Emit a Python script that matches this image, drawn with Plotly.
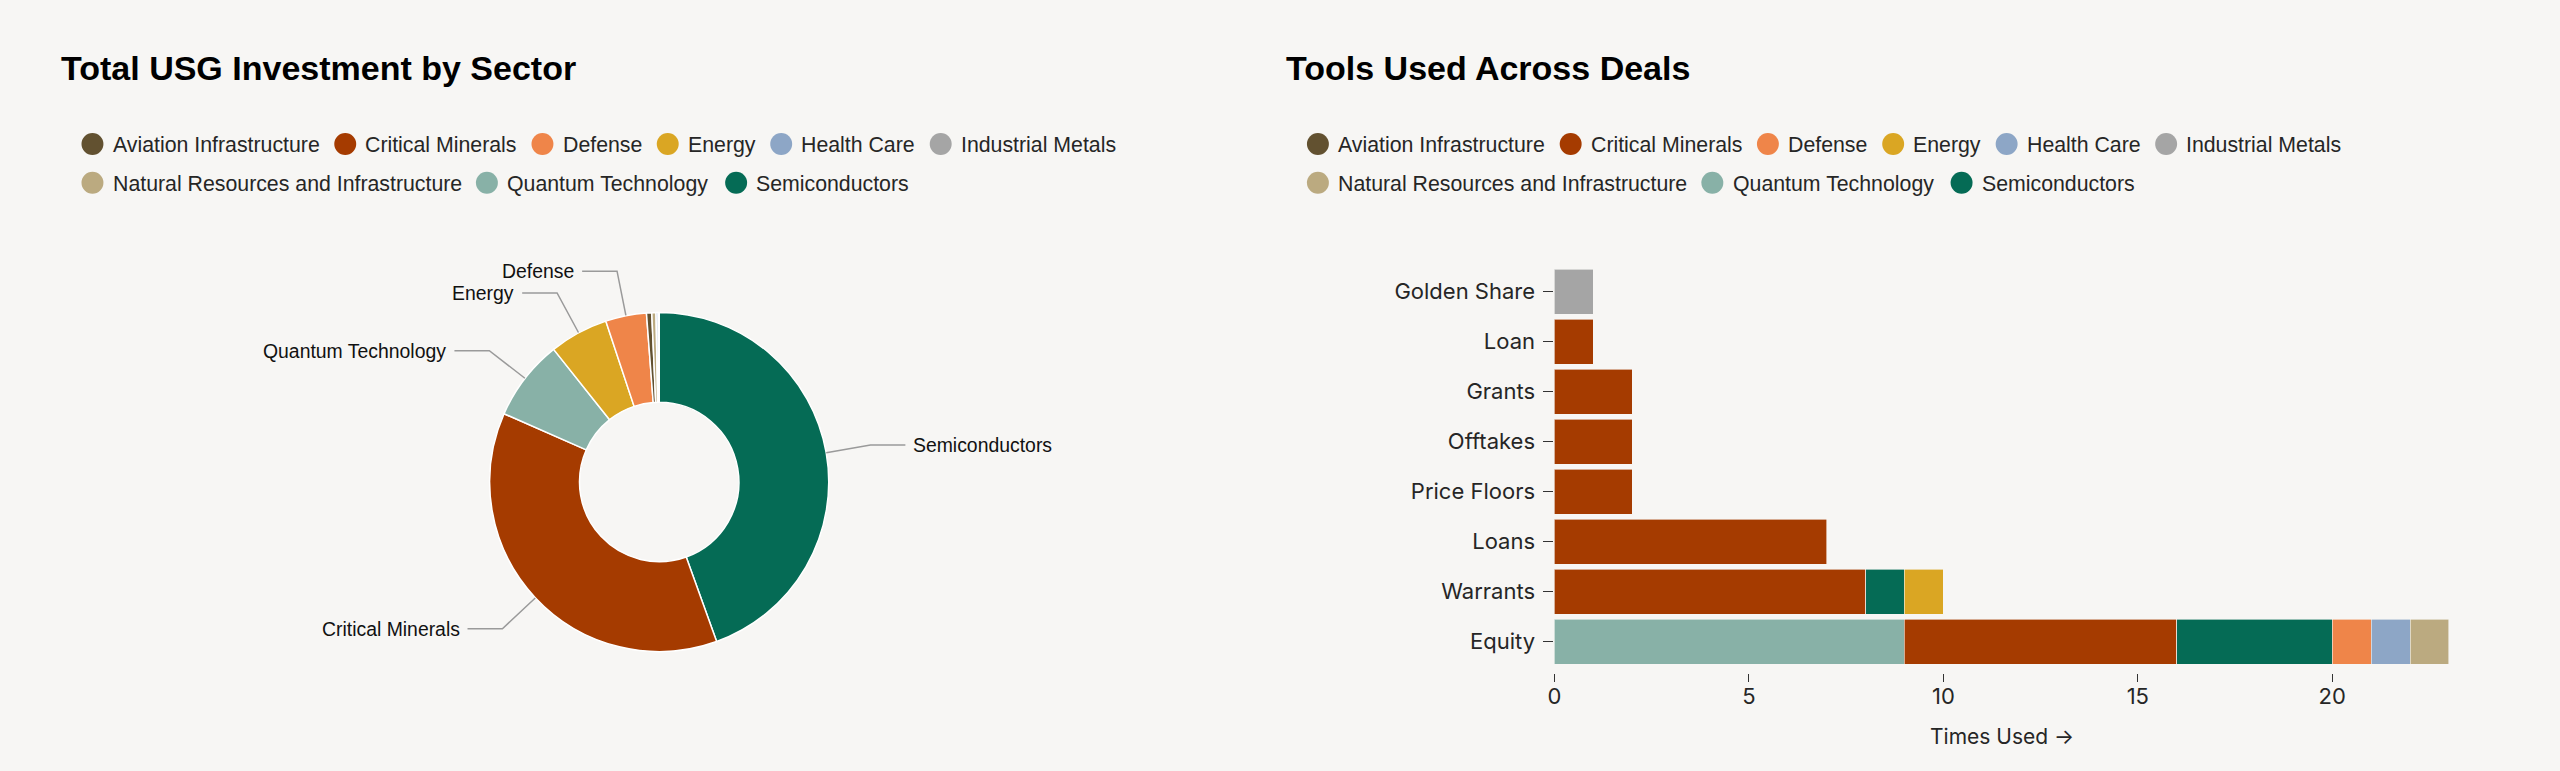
import math
import plotly.graph_objects as go

W, H = 2560, 771
BG = "#f7f6f4"

# ---------------- data ----------------
sectors = ["Aviation Infrastructure", "Critical Minerals", "Defense", "Energy", "Health Care",
           "Industrial Metals", "Natural Resources and Infrastructure", "Quantum Technology", "Semiconductors"]
sector_colors = ["#625130", "#a53b00", "#ef8549", "#daa623", "#8da6c6",
                 "#a5a5a5", "#bbaa80", "#88b1a7", "#056b55"]
# total USG investment by sector (USD millions, estimated)
investment_musd = [100, 7420, 780, 1120, 40, 20, 80, 1540, 8900]

tools = ["Golden Share", "Loan", "Grants", "Offtakes", "Price Floors", "Loans", "Warrants", "Equity"]
# times each tool was used, per sector (same order as tools)
quantum_counts = [0, 0, 0, 0, 0, 0, 0, 9]
critical_counts = [0, 1, 2, 2, 2, 7, 8, 7]
semis_counts = [0, 0, 0, 0, 0, 0, 1, 4]
energy_counts = [0, 0, 0, 0, 0, 0, 1, 0]
defense_counts = [0, 0, 0, 0, 0, 0, 0, 1]
health_counts = [0, 0, 0, 0, 0, 0, 0, 1]
natres_counts = [0, 0, 0, 0, 0, 0, 0, 1]
industrial_counts = [1, 0, 0, 0, 0, 0, 0, 0]
aviation_counts = [0, 0, 0, 0, 0, 0, 0, 0]
x_ticks = [0, 5, 10, 15, 20]

stack = [("Quantum Technology", quantum_counts), ("Critical Minerals", critical_counts),
         ("Semiconductors", semis_counts), ("Energy", energy_counts), ("Defense", defense_counts),
         ("Health Care", health_counts), ("Natural Resources and Infrastructure", natres_counts),
         ("Industrial Metals", industrial_counts), ("Aviation Infrastructure", aviation_counts)]

color_of = dict(zip(sectors, sector_colors))

# ---------------- helpers ----------------
def px(x):
    return x / W

def py(y):
    return 1 - y / H

ARIAL = {' ': 278, 'A': 667, 'C': 722, 'D': 722, 'E': 667, 'H': 722, 'I': 278, 'M': 833, 'N': 722,
         'Q': 778, 'R': 722, 'S': 667, 'T': 611, 'a': 556, 'c': 500, 'd': 556, 'e': 556, 'f': 278,
         'g': 556, 'h': 556, 'i': 222, 'l': 222, 'm': 833, 'n': 556, 'o': 556, 'r': 333, 's': 500,
         't': 278, 'u': 556, 'v': 500, 'y': 500}

def text_w(s, size):
    return sum(ARIAL.get(ch, 556) for ch in s) * size / 1000.0

SANS = "Liberation Sans, Arial, Helvetica, sans-serif"
GROT = "Inter, Roboto, sans-serif"

fig = go.Figure()
shapes = []
annotations = []

# ---------------- donut ----------------
CX, CY, R = 654, 482, 170
fig.add_trace(go.Pie(
    labels=sectors, values=investment_musd, hole=0.47, sort=True, direction="clockwise",
    rotation=0, textinfo="none", showlegend=False,
    marker=dict(colors=sector_colors, line=dict(color="white", width=1.5)),
    domain=dict(x=[px(CX - R), px(CX + R)], y=[py(CY + R), py(CY - R)]),
))

total = sum(investment_musd)
order = sorted(range(len(sectors)), key=lambda i: -investment_musd[i])
acc = 0.0
for i in order:
    frac = investment_musd[i] / total
    mid = (acc + frac / 2) * 2 * math.pi
    acc += frac
    if frac < 0.02:
        continue
    sx, sy = CX + R * math.sin(mid), CY - R * math.cos(mid)
    ex, ey = CX + 1.265 * R * math.sin(mid), CY - 1.265 * R * math.cos(mid)
    side = 1 if math.sin(mid) > 0 else -1
    hx = ex + side * 35
    shapes.append(dict(type="path", xref="paper", yref="paper",
                       path=f"M {px(sx)} {py(sy)} L {px(ex)} {py(ey)} L {px(hx)} {py(ey)}",
                       line=dict(color="#9a9a9a", width=1.5)))
    annotations.append(dict(x=px(hx + side * 8), y=py(ey), xref="paper", yref="paper",
                            text=sectors[i], showarrow=False,
                            xanchor="left" if side > 0 else "right", yanchor="middle",
                            borderpad=0, borderwidth=0,
                            font=dict(family=SANS, size=19.4, color="#111111")))

# ---------------- stacked bars ----------------
for name, vals in stack:
    fig.add_trace(go.Bar(
        y=tools, x=[v if v else None for v in vals], orientation="h", name=name,
        marker=dict(color=color_of[name], line=dict(color=BG, width=0.6)),
        showlegend=False, xaxis="x", yaxis="y",
    ))

X0, X1 = 1551.7, 2448.6
YT, YB = 266.5, 666.5

# ---------------- titles ----------------
for x, t in [(54, "Total USG Investment by Sector"), (1283, "Tools Used Across Deals")]:
    annotations.append(dict(x=px(x), y=py(68), xref="paper", yref="paper", text=f"<b>{t}</b>",
                            showarrow=False, xanchor="left", yanchor="middle", borderpad=0,
                            borderwidth=0,
                            font=dict(family=SANS, size=34, color="#000000")))

# ---------------- legends ----------------
LEG_FS = 21.3

def draw_legend(x0, y0, max_w):
    cx, cy = x0, y0
    for name, col in zip(sectors, sector_colors):
        w = text_w(name, LEG_FS)
        if cx + 20.3 + w > x0 + max_w:
            cx, cy = x0, cy + 38.7
        shapes.append(dict(type="circle", xref="paper", yref="paper",
                           x0=px(cx - 11), x1=px(cx + 11), y0=py(cy + 11), y1=py(cy - 11),
                           fillcolor=col, line=dict(width=0)))
        annotations.append(dict(x=px(cx + 20.3), y=py(cy + 1), xref="paper", yref="paper", text=name,
                                showarrow=False, xanchor="left", yanchor="middle",
                                borderpad=0, borderwidth=0,
                                font=dict(family=SANS, size=LEG_FS, color="#262626")))
        cx = cx + 20.3 + w + 26

draw_legend(85.7, 144, 1150)
draw_legend(1314.5, 144, 1150)

# axis title
annotations.append(dict(x=px((X0 + X1) / 2), y=py(736), xref="paper", yref="paper",
                        text="Times Used →", showarrow=False, xanchor="center", yanchor="middle",
                        font=dict(family=GROT, size=21, color="#262626")))

fig.update_layout(
    width=W, height=H, autosize=False,
    paper_bgcolor=BG, plot_bgcolor=BG,
    margin=dict(l=0, r=0, t=0, b=0),
    barmode="stack", bargap=0.1,
    showlegend=False,
    xaxis=dict(domain=[px(X0), px(X1)], range=[0, 23], anchor="free", position=py(672.7),
               tickvals=x_ticks, ticks="outside", ticklen=8, tickwidth=1.3, tickcolor="#333333",
               showgrid=False, zeroline=False, showline=False, ticklabelstandoff=-4,
               tickfont=dict(family=GROT, size=22, color="#262626")),
    yaxis=dict(domain=[py(YB), py(YT)], categoryorder="array", categoryarray=tools,
               range=[len(tools) - 0.5, -0.5], anchor="x",
               ticks="outside", ticklen=10, tickwidth=1.3, tickcolor="#333333",
               showgrid=False, zeroline=False, showline=False, ticklabelstandoff=4,
               tickfont=dict(family=GROT, size=22, color="#262626")),
    shapes=shapes,
    annotations=annotations,
    hovermode=False,
)

fig.write_html("out.html")
